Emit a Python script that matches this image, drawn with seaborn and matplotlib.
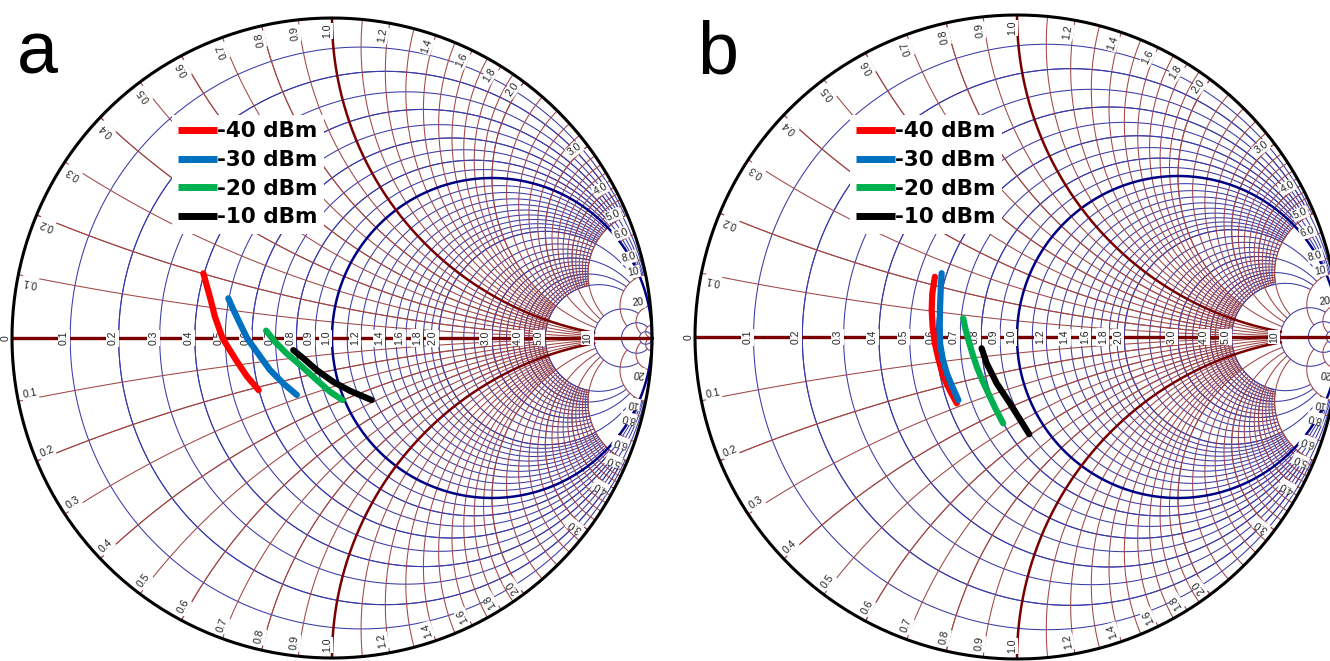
import numpy as np
import matplotlib
matplotlib.use("Agg")
import matplotlib.pyplot as plt
from matplotlib.collections import LineCollection
from matplotlib.lines import Line2D
import pandas as pd
import seaborn as sns

sns.set_theme(style="white")
plt.rcParams['font.family'] = ['Liberation Sans', 'DejaVu Sans']
plt.rcParams['text.color'] = 'black'

# ---------------- data (reflection coefficient, real / imag) ----------------
series_labels = ['-40 dBm', '-30 dBm', '-20 dBm', '-10 dBm']
series_colors = ['#ff0000', '#0070c0', '#00b050', '#000000']

# panel a
a_m40_re = [-0.402, -0.379, -0.366, -0.342, -0.300, -0.265, -0.229]
a_m40_im = [0.202, 0.119, 0.067, -0.001, -0.069, -0.121, -0.163]
a_m30_re = [-0.324, -0.308, -0.288, -0.265, -0.235, -0.194, -0.152, -0.110]
a_m30_im = [0.124, 0.088, 0.046, -0.001, -0.043, -0.100, -0.142, -0.178]
a_m20_re = [-0.206, -0.178, -0.142, -0.100, -0.048, -0.006, 0.033]
a_m20_im = [0.023, -0.012, -0.048, -0.084, -0.131, -0.168, -0.194]
a_m10_re = [-0.121, -0.090, -0.048, 0.004, 0.056, 0.124]
a_m10_im = [-0.038, -0.063, -0.100, -0.137, -0.165, -0.194]

# panel b
b_m40_re = [-0.255, -0.263, -0.265, -0.262, -0.255, -0.243, -0.229, -0.208, -0.187]
b_m40_im = [0.187, 0.135, 0.084, 0.032, -0.020, -0.072, -0.123, -0.167, -0.206]
b_m30_re = [-0.234, -0.237, -0.239, -0.240, -0.239, -0.231, -0.218, -0.200, -0.182]
b_m30_im = [0.198, 0.146, 0.094, 0.037, -0.020, -0.067, -0.113, -0.156, -0.196]
b_m20_re = [-0.167, -0.160, -0.151, -0.139, -0.125, -0.108, -0.089, -0.067, -0.043]
b_m20_im = [0.058, 0.025, -0.009, -0.050, -0.092, -0.134, -0.175, -0.222, -0.268]
b_m10_re = [-0.110, -0.094, -0.063, -0.022, 0.038]
b_m10_im = [-0.035, -0.082, -0.144, -0.206, -0.302]

# Smith chart tick labels
axis_r_values = [0, 0.1, 0.2, 0.3, 0.4, 0.5, 0.6, 0.7, 0.8, 0.9, 1.0,
                 1.2, 1.4, 1.6, 1.8, 2.0, 3.0, 4.0, 5.0, 10]
axis_r_labels = ['0', '0.1', '0.2', '0.3', '0.4', '0.5', '0.6', '0.7', '0.8', '0.9', '1.0',
                 '1.2', '1.4', '1.6', '1.8', '2.0', '3.0', '4.0', '5.0', '10']
edge_x_values = [0.1, 0.2, 0.3, 0.4, 0.5, 0.6, 0.7, 0.8, 0.9, 1.0,
                 1.2, 1.4, 1.6, 1.8, 2.0, 3.0, 4.0, 5.0, 6.0, 8.0, 10, 20]
edge_x_labels = ['0.1', '0.2', '0.3', '0.4', '0.5', '0.6', '0.7', '0.8', '0.9', '1.0',
                 '1.2', '1.4', '1.6', '1.8', '2.0', '3.0', '4.0', '5.0', '6.0', '8.0', '10', '20']

# grid values
fine_vals = list(np.round(np.arange(0.1, 2.01, 0.1), 2)) + list(np.round(np.arange(2.2, 5.01, 0.2), 2))
mid_vals = [0.2, 0.4, 0.6, 0.8, 2.0, 3.0, 4.0, 5.0]

panels = {
    'a': dict(cx=332, cy=338, R=320,
              curves=[(a_m40_re, a_m40_im), (a_m30_re, a_m30_im), (a_m20_re, a_m20_im), (a_m10_re, a_m10_im)],
              legend=(172, 115), letter=(17, 73)),
    'b': dict(cx=1017, cy=337, R=322,
              curves=[(b_m40_re, b_m40_im), (b_m30_re, b_m30_im), (b_m20_re, b_m20_im), (b_m10_re, b_m10_im)],
              legend=(850, 115), letter=(697, 73)),
}

W, H = 1330, 661
fig = plt.figure(figsize=(W / 100, H / 100), dpi=100)

BLUE = '#3a3aa8'
BROWN = '#a04646'
NAVY = '#000085'
MAROON = '#7a0000'
LABEL_FS = 7.5


def gamma(z):
    return (z - 1) / (z + 1)


def r_circle(r, xmax, n=400):
    c = r / (1 + r)
    rho = 1 / (1 + r)
    g = gamma(r + 1j * xmax)
    phi = np.arctan2(g.imag, g.real - c)
    t = np.linspace(phi, 2 * np.pi - phi, n)
    return np.column_stack([c + rho * np.cos(t), rho * np.sin(t)])


def x_arc(x, rmax, n=300):
    a = abs(x)
    cyy = 1 / a
    rho = 1 / a
    g0 = gamma(1j * a)
    g1 = gamma(rmax + 1j * a)
    p0 = np.arctan2(g0.imag - cyy, g0.real - 1) % (2 * np.pi)
    p1 = np.arctan2(g1.imag - cyy, g1.real - 1) % (2 * np.pi)
    t = np.linspace(p0, p1, n)
    gx = 1 + rho * np.cos(t)
    gy = cyy + rho * np.sin(t)
    if x < 0:
        gy = -gy
    return np.column_stack([gx, gy])


M = 1.03
for key, p in panels.items():
    cx, cy, R = p['cx'], p['cy'], p['R']
    left = (cx - M * R) / W
    bottom = (H - (cy + M * R)) / H
    ax = fig.add_axes([left, bottom, 2 * M * R / W, 2 * M * R / H])
    ax.set_xlim(-M, M)
    ax.set_ylim(-M, M)
    ax.axis('off')

    # thin resistance circles
    segs = []
    for r in fine_vals:
        if abs(r - 1.0) < 1e-9:
            continue
        segs.append(r_circle(r, 5.0))
    for r in mid_vals:
        segs.append(r_circle(r, 10.0))
    segs.append(r_circle(10, 20))
    segs.append(r_circle(20, 50))
    segs.append(r_circle(50, 1e4))
    ax.add_collection(LineCollection(segs, colors=BLUE, linewidths=0.75, zorder=1))

    # thin reactance arcs
    segs = []
    for xv in fine_vals:
        if abs(xv - 1.0) < 1e-9:
            continue
        for s in (1, -1):
            segs.append(x_arc(s * xv, 5.0))
    for xv in mid_vals:
        for s in (1, -1):
            segs.append(x_arc(s * xv, 10.0))
    for xv, rm in ((6.0, 1.0), (8.0, 1.0), (10.0, 20.0), (20.0, 50.0), (50.0, 1e4)):
        for s in (1, -1):
            segs.append(x_arc(s * xv, rm))
    ax.add_collection(LineCollection(segs, colors=BROWN, linewidths=0.75, zorder=1))

    # highlighted r = 1 circle and x = +-1 arcs, real axis
    c1 = r_circle(1.0, 1e4)
    ax.plot(c1[:, 0], c1[:, 1], color=NAVY, lw=1.8, zorder=2)
    for s in (1, -1):
        a1 = x_arc(s * 1.0, 10.0)
        ax.plot(a1[:, 0], a1[:, 1], color=MAROON, lw=1.8, zorder=2)
    ax.plot([-1, 1], [0, 0], color=MAROON, lw=2.4, zorder=2)

    # real axis labels
    for rv, lab in zip(axis_r_values, axis_r_labels):
        gx = (rv - 1) / (rv + 1)
        ax.text(gx - 0.004, 0, lab, rotation=90, rotation_mode='anchor', ha='center', va='bottom',
                fontsize=LABEL_FS, color='#222222', zorder=3,
                bbox=dict(boxstyle='square,pad=0.12', fc='white', ec='none'))

    # boundary labels
    for xv, lab in zip(edge_x_values, edge_x_labels):
        g = gamma(1j * xv)
        th = np.degrees(np.arctan2(g.imag, g.real))
        rr = 0.982
        px, py = rr * np.cos(np.radians(th)), rr * np.sin(np.radians(th))
        ax.text(px, py, lab, rotation=th, rotation_mode='anchor', ha='right', va='bottom',
                fontsize=LABEL_FS, color='#222222', zorder=3,
                bbox=dict(boxstyle='square,pad=0.1', fc='white', ec='none'))
        ax.text(px, -py, lab, rotation=180 - th, rotation_mode='anchor', ha='left', va='bottom',
                fontsize=LABEL_FS, color='#222222', zorder=3,
                bbox=dict(boxstyle='square,pad=0.1', fc='white', ec='none'))

    # outer boundary
    t = np.linspace(0, 2 * np.pi, 600)
    ax.plot(np.cos(t), np.sin(t), color='black', lw=2.2, zorder=4, clip_on=False)

    # measured curves
    rows = []
    for lab, (re, im) in zip(series_labels, p['curves']):
        for i, (u, v) in enumerate(zip(re, im)):
            rows.append(dict(re=u, im=v, series=lab, idx=i))
    df = pd.DataFrame(rows)
    sns.lineplot(data=df, x='re', y='im', hue='series', hue_order=series_labels,
                 palette=dict(zip(series_labels, series_colors)), sort=False, estimator=None,
                 lw=4.5, solid_capstyle='round', solid_joinstyle='round', legend=False, ax=ax, zorder=5)
    ax.set_xlabel('')
    ax.set_ylabel('')

    handles = [Line2D([0], [0], color=c, lw=5, solid_capstyle='butt') for c in series_colors]
    lx, ly = p['legend']
    leg = ax.legend(handles, series_labels, loc='upper left', bbox_to_anchor=(lx / W, 1 - ly / H),
                    bbox_transform=fig.transFigure, frameon=True, facecolor='white', edgecolor='none',
                    framealpha=1, fancybox=False, handlelength=1.77, handletextpad=0.0,
                    labelspacing=0.40, borderpad=0.3, borderaxespad=0,
                    prop={'family': 'DejaVu Sans', 'weight': 'bold', 'size': 15.5})
    for txt in leg.get_texts():
        txt.set_color('black')
    leg.set_zorder(6)

    fx, fy = p['letter']
    fig.text(fx / W, 1 - fy / H, key, fontsize=53, va='baseline', ha='left', color='black')

fig.savefig('out.png', dpi=100, facecolor='white')
